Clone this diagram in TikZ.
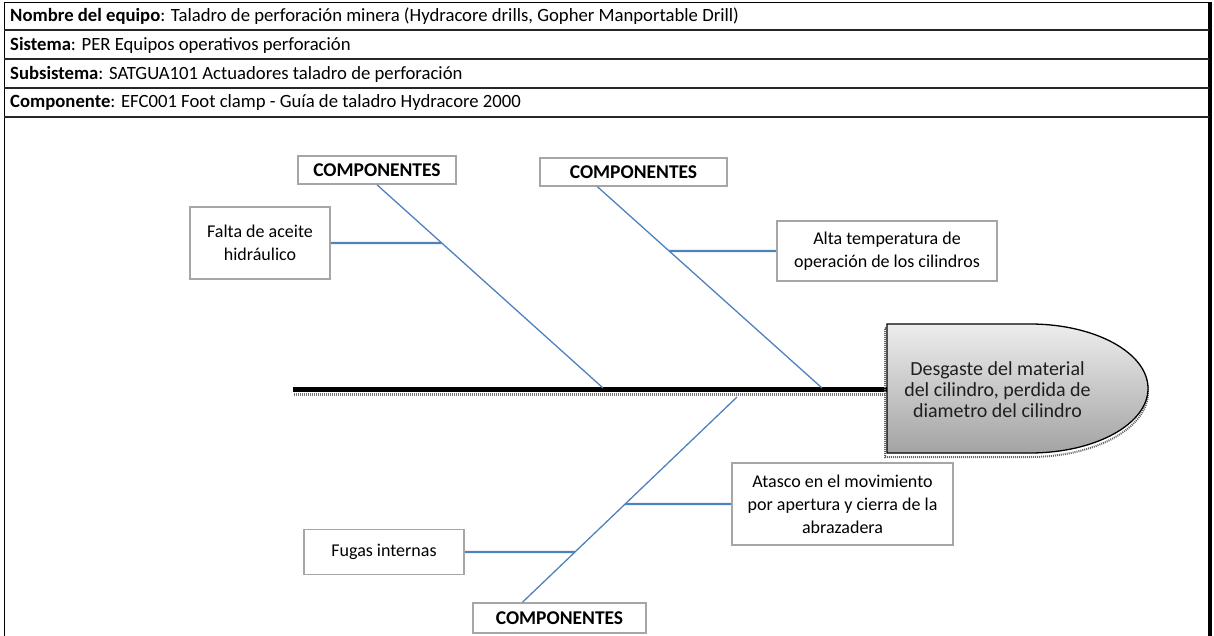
\documentclass[tikz,border=0pt]{standalone}
\usepackage{fontspec}
\setmainfont{Carlito}
\usetikzlibrary{calc}
\definecolor{bone}{HTML}{4F81BD}
\definecolor{boxline}{HTML}{A6A6A6}
\tikzset{
  rowtext/.style={anchor=west, inner sep=0pt, font=\fontsize{18.7}{20}\selectfont},
  cause/.style={draw=boxline, line width=1.6pt, fill=white, align=center,
     font=\fontsize{18}{23}\selectfont, inner sep=2pt},
  catbox/.style={draw=boxline, line width=1.6pt, fill=white,
     font=\bfseries\fontsize{19.5}{21}\selectfont, inner sep=2pt},
  bonel/.style={draw=bone, line width=1.3pt},
  subbone/.style={draw=bone, line width=2.2pt},
  tabline/.style={line width=2.6pt, draw=black!85},
}
\begin{document}
\begin{tikzpicture}[x=1pt,y=-1pt]
\useasboundingbox (0,0) rectangle (1214,636);
% table frame
\draw[line width=1.4pt] (5,2.5) -- (1209,2.5);
\draw[line width=1.4pt] (4.5,2) -- (4.5,636);
\draw[line width=4pt] (1210,2) -- (1210,636);
\foreach \yy in {30,59,88,117} \draw[tabline] (4,\yy) -- (1209,\yy);
\node[rowtext] (r1) at (10,16.5) {\textbf{Nombre del equipo}: Taladro de perforación minera (Hydracore drills, Gopher Manportable Drill)};
\node[rowtext] (r2) at (10,45) {\textbf{Sistema}: PER Equipos operativos perforación};
\node[rowtext] (r3) at (10,74) {\textbf{Subsistema}: SATGUA101 Actuadores taladro de perforación};
\node[rowtext] (r4) at (10,103) {\textbf{Componente}: EFC001 Foot clamp - Guía de taladro Hydracore 2000};

% spine
\draw[black!55, line width=3pt, dash pattern=on 1pt off 1pt] (294,394) -- (886,394);
\draw[line width=5pt] (293,389.5) -- (887,389.5);

% head
\draw[black!60, line width=2pt, dash pattern=on 1pt off 1pt] (885,328) -- (1030,328) arc[start angle=90,end angle=-90,x radius=118pt,y radius=64.5pt] -- (885,457) -- cycle;
\draw[line width=1.3pt, top color=black!7, bottom color=black!36] (887,324) -- (1030,324) arc[start angle=90,end angle=-90,x radius=118pt,y radius=64.5pt] -- (887,453) -- cycle;
\node[align=center, font=\fontsize{20}{21}\selectfont, text=black!88, inner sep=0pt] (head) at (997.5,390) {Desgaste del material\\del cilindro, perdida de\\diametro del cilindro};

% spine coordinates
\coordinate (s1) at (603,388);
\coordinate (s2) at (822,388);
\coordinate (s3) at (737,397);

% category boxes
\node[catbox, minimum width=158pt, minimum height=28pt] (c1) at (377,170) {COMPONENTES};
\node[catbox, minimum width=187pt, minimum height=28pt] (c2) at (633.5,172) {COMPONENTES};
\node[catbox, minimum width=173pt, minimum height=30pt] (c3) at (559.5,618) {COMPONENTES};
\coordinate (t2) at ($(c2.south)+(-36,0)$);
\coordinate (t3) at ($(c3.north)+(-37,0)$);

% cause boxes
\node[cause, minimum width=140pt, minimum height=72pt] (f1) at (260,243) {Falta de aceite\\hidráulico};
\node[cause, minimum width=220pt, minimum height=60pt] (f2) at (887,251) {Alta temperatura de\\operación de los cilindros};
\node[cause, minimum width=221pt, minimum height=82pt] (f3) at (842.5,504) {Atasco en el movimiento\\por apertura y cierra de la\\abrazadera};
\node[cause, minimum width=160pt, minimum height=45pt] (f4) at (384,552) {Fugas internas};

% bones
\draw[bonel] (c1.south) -- (s1);
\draw[bonel] (t2) -- (s2);
\draw[bonel] (t3) -- (s3);
\draw[subbone] (f1.east) -- (intersection of f1.east--f1.west and c1.south--s1);
\draw[subbone] (f2.west) -- (intersection of f2.east--f2.west and t2--s2);
\draw[subbone] (f3.west) -- (intersection of f3.east--f3.west and t3--s3);
\draw[subbone] (f4.east) -- (intersection of f4.east--f4.west and t3--s3);
\end{tikzpicture}
\end{document}
